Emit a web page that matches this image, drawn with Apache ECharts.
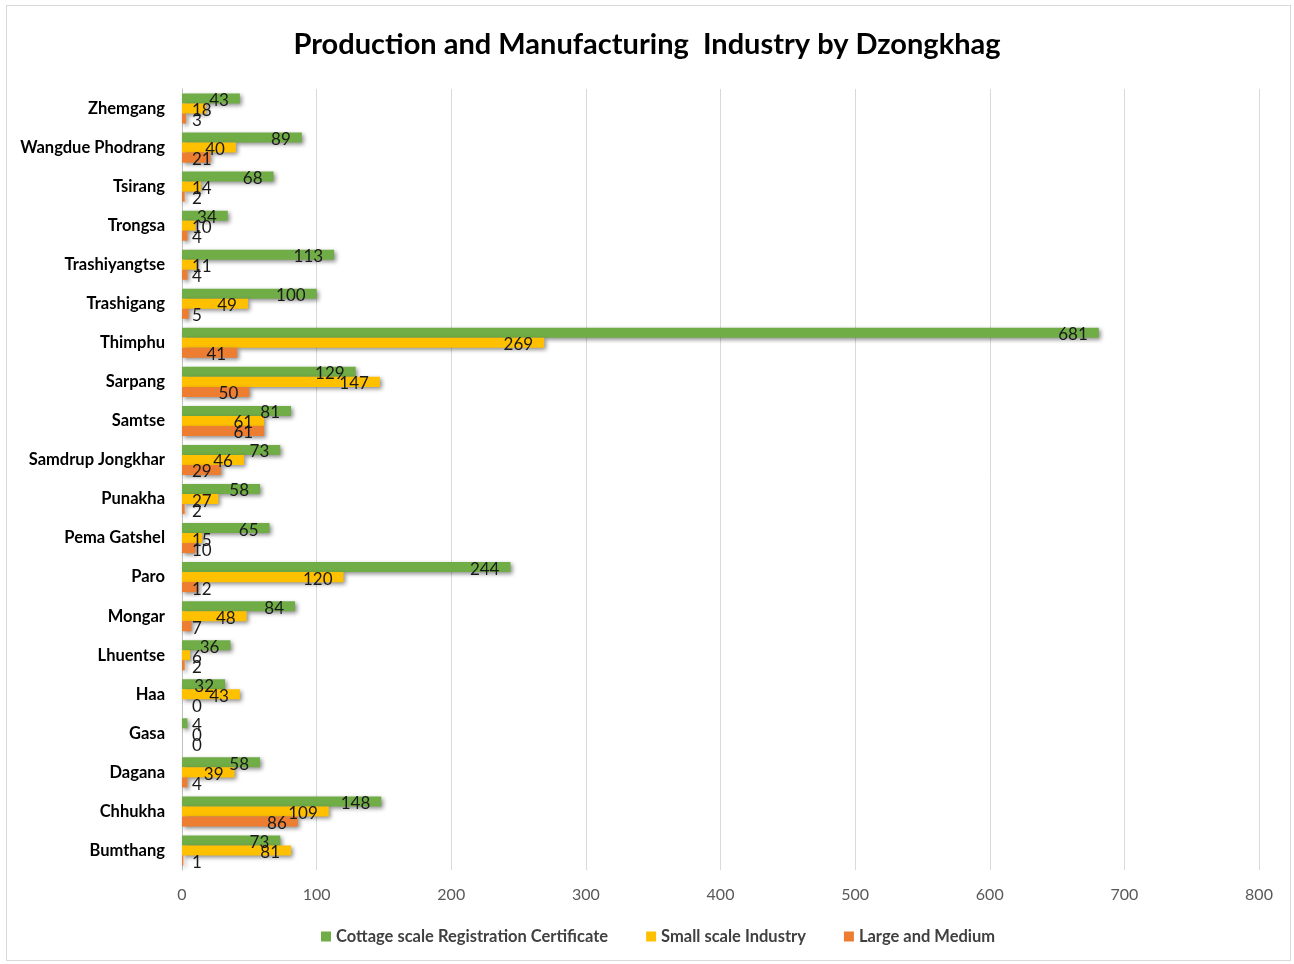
<!DOCTYPE html>
<html>
<head>
<meta charset="utf-8">
<script src="https://cdn.jsdelivr.net/npm/echarts@6/dist/echarts.min.js"></script>
<style>
  html, body { margin: 0; padding: 0; background: #fff; }
  #frame { position: absolute; left: 6px; top: 5px; width: 1285px; height: 956px; border: 1px solid #d9d9d9; box-sizing: border-box; }
  #chart { position: absolute; left: 0; top: 0; width: 1294px; height: 964px; }
</style>
</head>
<body>
<div id="frame"></div>
<div id="chart"></div>
<script>
// Dzongkhags, listed bottom to top along the category axis
const dzongkhags = ['Bumthang', 'Chhukha', 'Dagana', 'Gasa', 'Haa', 'Lhuentse', 'Mongar', 'Paro',
  'Pema Gatshel', 'Punakha', 'Samdrup Jongkhar', 'Samtse', 'Sarpang', 'Thimphu', 'Trashigang',
  'Trashiyangtse', 'Trongsa', 'Tsirang', 'Wangdue Phodrang', 'Zhemgang'];

const cottage = [73, 148, 58, 4, 32, 36, 84, 244, 65, 58, 73, 81, 129, 681, 100, 113, 34, 68, 89, 43];
const smallScale = [81, 109, 39, 0, 43, 6, 48, 120, 15, 27, 46, 61, 147, 269, 49, 11, 10, 14, 40, 18];
const largeMedium = [1, 86, 4, 0, 0, 2, 7, 12, 10, 2, 29, 61, 50, 41, 5, 4, 4, 2, 21, 3];

const xTicks = [0, 100, 200, 300, 400, 500, 600, 700, 800];

const seriesNames = ['Cottage scale Registration Certificate', 'Small scale Industry', 'Large and Medium'];
const colors = { cottage: '#70AD47', small: '#FFC000', large: '#ED7D31' };

const FONT = 'Lato, "Open Sans", sans-serif';
const PX_PER_UNIT = (1259 - 182) / 800;

// Short bars cannot hold their label, so it sits past the axis start instead
function withLabels(values) {
  return values.map(v => {
    const textW = String(v).length * 9;
    const fits = v * PX_PER_UNIT > textW + 22;
    return {
      value: v,
      label: fits
        ? { position: 'insideRight', distance: 11 }
        : { position: 'insideLeft', distance: 10 }
    };
  });
}

function barSeries(name, values, color) {
  return {
    name: name,
    type: 'bar',
    data: withLabels(values),
    barGap: '0%',
    barCategoryGap: '23%',
    itemStyle: {
      color: color,
      shadowColor: 'rgba(0,0,0,0.45)',
      shadowBlur: 4,
      shadowOffsetX: 2,
      shadowOffsetY: 2
    },
    label: {
      show: true,
      color: '#1a1a1a',
      fontFamily: FONT,
      fontSize: 17,
      offset: [0, 2]
    }
  };
}

const chart = echarts.init(document.getElementById('chart'), null, { renderer: 'canvas' });
chart.setOption({
  animation: false,
  backgroundColor: 'transparent',
  title: {
    text: 'Production and Manufacturing  Industry by Dzongkhag',
    left: 'center',
    top: 25,
    textStyle: { fontFamily: FONT, fontSize: 29, fontWeight: 'bold', color: '#000' }
  },
  legend: {
    bottom: 14,
    left: 316,
    itemWidth: 10,
    itemHeight: 10,
    itemGap: 38,
    itemStyle: { borderWidth: 0 },
    icon: 'rect',
    data: seriesNames,
    textStyle: { fontFamily: FONT, fontSize: 16.5, color: '#404040', fontWeight: 'bold' }
  },
  grid: { left: 182, right: 35, top: 89, bottom: 94 },
  xAxis: {
    type: 'value',
    min: xTicks[0],
    max: xTicks[xTicks.length - 1],
    interval: 100,
    axisLine: { show: false },
    axisTick: { show: false },
    splitLine: { lineStyle: { color: '#d9d9d9', width: 1 } },
    axisLabel: { margin: 17, color: '#595959', fontFamily: FONT, fontSize: 16 }
  },
  yAxis: {
    type: 'category',
    data: dzongkhags,
    axisLine: { show: true, lineStyle: { color: '#bfbfbf' } },
    axisTick: { show: false },
    axisLabel: { margin: 17, color: '#000', fontFamily: FONT, fontSize: 16.5, fontWeight: 'bold' }
  },
  series: [
    barSeries(seriesNames[0], cottage, colors.cottage),
    barSeries(seriesNames[1], smallScale, colors.small),
    barSeries(seriesNames[2], largeMedium, colors.large)
  ]
});
</script>
</body>
</html>
